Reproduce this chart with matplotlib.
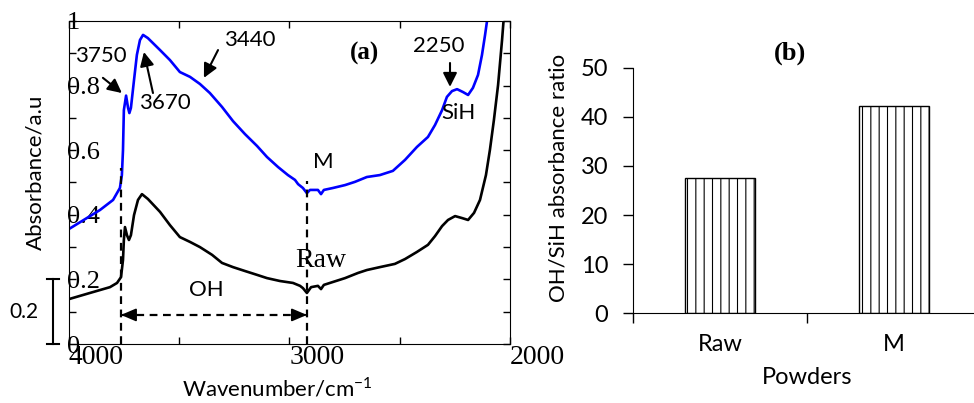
import matplotlib.pyplot as plt
from matplotlib.ticker import MultipleLocator, FixedLocator
from matplotlib import transforms

# spectra (wavenumber, absorbance)
wn_m = [4000, 3859, 3800, 3769, 3760, 3755, 3751, 3741, 3732, 3726, 3719, 3705, 3692,
        3678, 3664, 3642, 3587, 3542, 3497, 3451, 3406, 3361, 3306, 3256, 3202, 3147,
        3102, 3052, 3007, 2975, 2961, 2939, 2921, 2907, 2871, 2857, 2844, 2803, 2748,
        2703, 2649, 2590, 2531, 2476, 2422, 2372, 2340, 2308, 2286, 2263, 2240, 2213,
        2190, 2168, 2145, 2127, 2113, 2100]
abs_m = [0.356, 0.415, 0.446, 0.483, 0.523, 0.600, 0.724, 0.769, 0.731, 0.715, 0.731,
         0.817, 0.895, 0.941, 0.957, 0.947, 0.910, 0.879, 0.842, 0.827, 0.805, 0.777,
         0.734, 0.690, 0.650, 0.613, 0.579, 0.548, 0.523, 0.508, 0.495, 0.483, 0.467,
         0.477, 0.477, 0.464, 0.477, 0.483, 0.492, 0.502, 0.517, 0.523, 0.536, 0.570,
         0.610, 0.641, 0.678, 0.724, 0.765, 0.783, 0.789, 0.780, 0.771, 0.793, 0.833,
         0.895, 0.957, 1.02]

wn_raw = [4000, 3905, 3814, 3782, 3764, 3755, 3751, 3746, 3737, 3728, 3719, 3705, 3687,
          3669, 3642, 3587, 3542, 3497, 3451, 3406, 3351, 3306, 3256, 3202, 3147, 3102,
          3043, 2984, 2952, 2939, 2921, 2902, 2871, 2857, 2844, 2803, 2748, 2689, 2649,
          2590, 2522, 2476, 2422, 2372, 2340, 2308, 2281, 2249, 2218, 2190, 2163, 2136,
          2109, 2091, 2073, 2054, 2036, 2027]
abs_raw = [0.139, 0.158, 0.176, 0.189, 0.207, 0.260, 0.322, 0.362, 0.337, 0.322, 0.337,
           0.399, 0.446, 0.464, 0.449, 0.409, 0.368, 0.331, 0.316, 0.300, 0.276, 0.251,
           0.238, 0.226, 0.214, 0.204, 0.195, 0.189, 0.180, 0.173, 0.158, 0.176, 0.180,
           0.170, 0.183, 0.192, 0.204, 0.220, 0.229, 0.238, 0.248, 0.263, 0.285, 0.307,
           0.334, 0.365, 0.384, 0.396, 0.390, 0.384, 0.406, 0.446, 0.523, 0.601, 0.693,
           0.802, 0.941, 1.02]

# bar chart
powders = ['Raw', 'M']
ratio = [27.5, 42.2]

sans = 'Lato'
serif = 'Liberation Serif'

fig = plt.figure(figsize=(9.74, 4.03), dpi=100)
plt.rcParams['hatch.linewidth'] = 0.8

# ---- (a) spectra ----
ax = fig.add_axes([0.0708, 0.1464, 0.4528, 0.8015])
ax.plot(wn_m, abs_m, color='#0000ff', lw=1.9)
ax.plot(wn_raw, abs_raw, color='black', lw=1.9)
ax.set_xlim(4000, 2000)
ax.set_ylim(0, 1)

ax.xaxis.set_major_locator(FixedLocator([4000, 3000, 2000]))
ax.xaxis.set_minor_locator(MultipleLocator(500))
ax.yaxis.set_minor_locator(MultipleLocator(0.1))
ax.set_yticks([0, 0.2, 0.4, 0.6, 0.8, 1.0])
ax.set_yticklabels(['0', '0.2', '0.4', '0.6', '0.8', '1'])
ax.tick_params(which='both', direction='in', top=True, right=True, length=5, width=1)
ax.tick_params(axis='y', pad=1.5, labelsize=19)
ax.tick_params(axis='x', pad=1, labelsize=20)
for lbl in ax.get_yticklabels():
    lbl.set_ha('left')
    lbl.set_family(serif)
for lbl in ax.get_xticklabels():
    lbl.set_ha('left')
    lbl.set_family(serif)

ax.text(0.473, -0.137, 'Wavenumber/cm$^{\\mathregular{-1}}$', transform=ax.transAxes,
        ha='center', va='center', fontsize=16, family=sans)
trans = transforms.blended_transform_factory(ax.transAxes, ax.transData)
ax.text(-0.077, 0.53, 'Absorbance/a.u', transform=trans, rotation=90,
        ha='center', va='center', fontsize=16, family=sans)

# scale bar
ax.plot([-0.0363, -0.0363], [0, 0.2], color='black', lw=1.5, transform=trans, clip_on=False)
ax.plot([-0.05, -0.022], [0.2, 0.2], color='black', lw=1.5, transform=trans, clip_on=False)
ax.plot([-0.05, -0.022], [0, 0], color='black', lw=1.5, transform=trans, clip_on=False)
ax.text(-0.102, 0.1, '0.2', transform=trans, ha='center', va='center',
        fontsize=15, family=sans)

# OH region markers
dash = (0, (3.5, 2.5))
ax.plot([3764, 3764], [0, 0.546], color='black', lw=1.6, ls=dash)
ax.plot([2921, 2921], [0, 0.505], color='black', lw=1.6, ls=dash)
ax.plot([3755, 2930], [0.09, 0.09], color='black', lw=1.6, ls=dash)
head = dict(arrowstyle='-|>,head_length=0.75,head_width=0.32', color='black', lw=1.4,
            mutation_scale=12, shrinkA=0, shrinkB=0)
ax.annotate('', xy=(3764, 0.09), xytext=(3745, 0.09), arrowprops=head)
ax.annotate('', xy=(2921, 0.09), xytext=(2940, 0.09), arrowprops=head)

# peak labels
arrow = dict(arrowstyle='-|>,head_length=0.7,head_width=0.35', color='black', lw=1.5,
             mutation_scale=12, shrinkA=0, shrinkB=0)
ax.text(3855, 0.892, '3750', ha='center', va='center', fontsize=16, family=sans)
ax.annotate('', xy=(3760, 0.777), xytext=(3846, 0.824), arrowprops=arrow)
ax.text(3565, 0.746, '3670', ha='center', va='center', fontsize=16, family=sans)
ax.annotate('', xy=(3660, 0.904), xytext=(3619, 0.777), arrowprops=arrow)
ax.text(3179, 0.941, '3440', ha='center', va='center', fontsize=16, family=sans)
ax.annotate('', xy=(3388, 0.824), xytext=(3324, 0.910), arrowprops=arrow)
ax.text(2322, 0.923, '2250', ha='center', va='center', fontsize=16, family=sans)
ax.annotate('', xy=(2272, 0.796), xytext=(2272, 0.870), arrowprops=arrow)
ax.text(2236, 0.715, 'SiH', ha='center', va='center', fontsize=16, family=sans)
ax.text(2848, 0.563, 'M', ha='center', va='center', fontsize=16, family=sans)
ax.text(2857, 0.257, 'Raw', ha='center', va='center', fontsize=20, family=serif)
ax.text(3379, 0.167, 'OH', ha='center', va='center', fontsize=16, family=sans)
ax.text(2658, 0.898, '(a)', ha='center', va='center', fontsize=18,
        family=serif, fontweight='bold')

# ---- (b) ratio bars ----
ax2 = fig.add_axes([0.650, 0.2233, 0.3573, 0.6080])
ax2.bar(range(len(powders)), ratio, width=0.4, color='white', edgecolor='black',
        hatch='||', linewidth=1)
ax2.set_xlim(-0.5, 1.5)
ax2.set_ylim(0, 50)
ax2.set_yticks(range(0, 51, 10))
ax2.set_xticks([-0.5, 0.5, 1.5])
ax2.set_xticklabels([])
ax2.set_xticks(range(len(powders)), minor=True)
ax2.set_xticklabels(powders, minor=True)
ax2.tick_params(axis='x', which='minor', length=0, pad=15, labelsize=17)
ax2.tick_params(axis='x', which='major', length=7, width=1)
ax2.tick_params(axis='y', length=7, width=1, pad=11, labelsize=17)
for lbl in ax2.get_xticklabels(minor=True) + ax2.get_yticklabels():
    lbl.set_family(sans)
ax2.spines['top'].set_visible(False)
ax2.spines['right'].set_visible(False)
ax2.text(-0.215, 0.55, 'OH/SiH absorbance ratio', transform=ax2.transAxes, rotation=90,
         ha='center', va='center', fontsize=16, family=sans)
ax2.text(0.5, -0.265, 'Powders', transform=ax2.transAxes, ha='center', va='center',
         fontsize=17, family=sans)
ax2.text(0.45, 1.06, '(b)', transform=ax2.transAxes, ha='center', va='center',
         fontsize=19, family=serif, fontweight='bold')

fig.savefig('out.png', dpi=100)
